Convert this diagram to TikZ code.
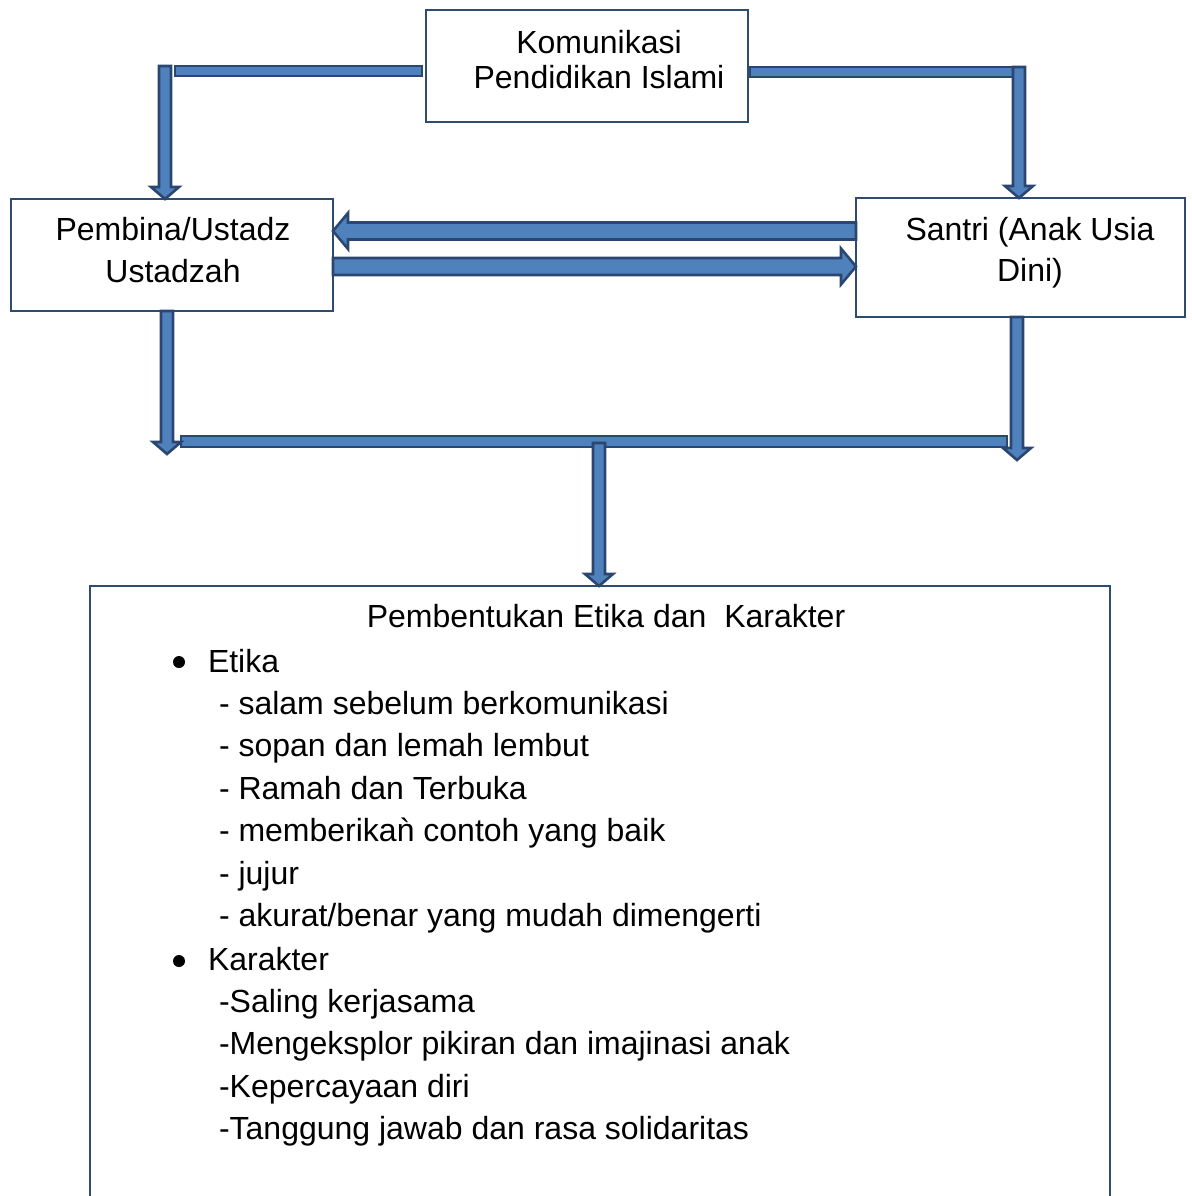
\documentclass[tikz,border=0pt]{standalone}
\usepackage{fontspec}
\setmainfont{Liberation Sans}
\usetikzlibrary{calc}
\definecolor{arrfill}{HTML}{4F81BD}
\definecolor{arrline}{HTML}{2B4670}
\definecolor{boxline}{HTML}{2F4B70}

\tikzset{
  boxnode/.style={draw=boxline, line width=1.1pt, rectangle, anchor=north west},
  txt/.style={anchor=base, font=\fontsize{16}{21}\selectfont},
  txtl/.style={txt, anchor=base west},
  bulletdot/.style={circle, fill=black, minimum size=6pt},
  barrow/.style={draw=arrline, fill=arrfill, line join=miter, line width=1.3pt},
}

% block arrows, shaft from #1 to the tip #2
\newcommand\blockdown[2]{%
  \path[barrow] ($(#1)+(-6,0)$) -- ($(#1)+(6,0)$) -- ($(#2)+(6,-12)$) --
    ($(#2)+(14,-12)$) -- (#2) -- ($(#2)+(-14,-12)$) -- ($(#2)+(-6,-12)$) -- cycle;}
\newcommand\blockside[3]{% #3 = +1 right, -1 left
  \path[barrow] ($(#1)+(0,-8.5)$) -- ($(#2)+(-15*#3,-8.5)$) -- ($(#2)+(-15*#3,-18)$) --
    (#2) -- ($(#2)+(-15*#3,18)$) -- ($(#2)+(-15*#3,8.5)$) -- ($(#1)+(0,8.5)$) -- cycle;}

\begin{document}
\begin{tikzpicture}[y=0.5pt, x=0.5pt, yscale=-1, inner sep=0pt, outer sep=0pt]
  \useasboundingbox (0,0) rectangle (1191,1196);

  % boxes
  \node[boxnode, minimum width=161pt, minimum height=56pt] (komunikasi) at (426,10) {};
  \node[boxnode, minimum width=161pt, minimum height=56pt] (pembina) at (11,199) {};
  \node[boxnode, minimum width=164.5pt, minimum height=59.5pt] (santri) at (856,198) {};
  \node[boxnode, minimum width=510pt, minimum height=330pt] (pembentukan) at (90,586) {};

  % box texts
  \path (599,53) node[txt] (text1) {Komunikasi};
  \path (599,88) node[txt] (text2) {Pendidikan Islami};
  \path (173,240) node[txt] (text3) {Pembina/Ustadz};
  \path (173,282) node[txt] (text4) {Ustadzah};
  \path (1030,240) node[txt] (text5) {Santri (Anak Usia};
  \path (1030,281) node[txt] (text6) {Dini)};

  % routing points
  \coordinate (kl) at (422,71);
  \coordinate (klend) at (175,71);
  \coordinate (tl) at (165,66);
  \coordinate (kr) at (750,72);
  \coordinate (tr) at (1019,67);
  \coordinate (bl) at (167,311);
  \coordinate (br) at (1017,317);
  \coordinate (hl) at (181,441.5);
  \coordinate (hr) at (1007,441.5);
  \coordinate (mid) at (599,443);

  % bars
  \path[barrow] ($(kl)+(0,-5)$) rectangle ($(klend)+(0,5)$);
  \path[barrow] ($(kr)+(0,-5)$) rectangle ($(tr)+(4,10)$);
  \path[barrow] ($(hl)+(0,-5.5)$) rectangle ($(hr)+(0,5.5)$);

  % arrows
  \blockdown{tl}{tl |- pembina.north}
  \blockdown{tr}{tr |- santri.north}
  \blockside{santri.west |- 0,231}{pembina.east |- 0,231}{-1}
  \blockside{pembina.east |- 0,266.5}{santri.west |- 0,266.5}{1}
  \blockdown{bl}{bl |- 0,454}
  \blockdown{br}{br |- 0,460}
  \blockdown{mid}{mid |- pembentukan.north}

  % list
  \path (606,627) node[txt] (judul) {Pembentukan Etika dan\ \ Karakter};
  \path (179,662) node[bulletdot] (dot1) {};
  \path (208,672) node[txtl] (etika) {Etika};
  \path (219,714) node[txtl] (e1) {- salam sebelum berkomunikasi};
  \path (219,756) node[txtl] (e2) {- sopan dan lemah lembut};
  \path (219,799) node[txtl] (e3) {- Ramah dan Terbuka};
  \path (219,841) node[txtl] (e4) {- memberikaǹ contoh yang baik};
  \path (219,884) node[txtl] (e5) {- jujur};
  \path (219,926) node[txtl] (e6) {- akurat/benar yang mudah dimengerti};
  \path (179,961) node[bulletdot] (dot2) {};
  \path (208,970) node[txtl] (karakter) {Karakter};
  \path (219,1012) node[txtl] (k1) {-Saling kerjasama};
  \path (219,1054) node[txtl] (k2) {-Mengeksplor pikiran dan imajinasi anak};
  \path (219,1097) node[txtl] (k3) {-Kepercayaan diri};
  \path (219,1139) node[txtl] (k4) {-Tanggung jawab dan rasa solidaritas};

\end{tikzpicture}
\end{document}
